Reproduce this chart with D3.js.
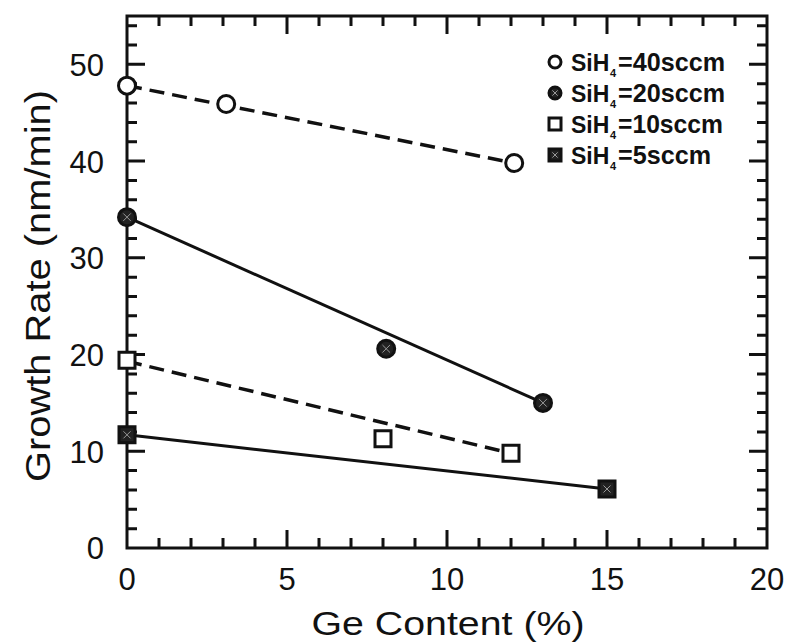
<!DOCTYPE html>
<html>
<head>
<meta charset="utf-8">
<script src="https://cdn.jsdelivr.net/npm/d3@7"></script>
<style>
  html, body { margin: 0; padding: 0; background: #fff; }
  svg { display: block; }
  text { font-family: "Liberation Sans", Arial, Helvetica, sans-serif; fill: #111; }
</style>
</head>
<body>
<div id="chart"></div>
<script>
// Growth rate vs Ge content, four SiH4 flows
const ge40 = [0, 3.1, 12.1];
const rate40 = [47.8, 45.9, 39.8];
const ge20 = [0, 8.1, 13.0];
const rate20 = [34.2, 20.6, 15.0];
const ge10 = [0, 8.0, 12.0];
const rate10 = [19.4, 11.3, 9.8];
const ge5 = [0, 15.0];
const rate5 = [11.7, 6.1];

// hand drawn trend lines (start / end)
const trend40 = [[0, 47.8], [12.1, 39.8]];
const trend20 = [[0, 34.2], [13.0, 15.0]];
const trend10 = [[0, 19.3], [12.0, 9.8]];
const trend5 = [[0, 11.7], [15.0, 6.1]];

const flows = ['40', '20', '10', '5'];
const xTicks = [0, 5, 10, 15, 20];
const yTicks = [0, 10, 20, 30, 40, 50];
const xMinor = d3.range(1, 20, 1);
const yMinor = d3.range(2, 55, 2);

const width = 789, height = 642;
const svg = d3.select('#chart').append('svg')
    .attr('width', width)
    .attr('height', height);

const x = d3.scaleLinear().domain([0, 20]).range([127, 767]);
const y = d3.scaleLinear().domain([0, 55]).range([548, 16]);

// frame plus inward ticks on all four sides, in one path
let frameD = `M${x(0)},${y(0)}H${x(20)}V${y(55)}H${x(0)}Z`;
xMinor.forEach(v => {
    const len = v % 5 === 0 ? 18 : 10;
    frameD += `M${x(v)},${y(0)}V${y(0) - len}`;
    frameD += `M${x(v)},${y(55)}V${y(55) + len}`;
});
yMinor.forEach(v => {
    const len = v % 10 === 0 ? 18 : 10;
    frameD += `M${x(0)},${y(v)}H${x(0) + len}`;
    frameD += `M${x(20)},${y(v)}H${x(20) - len}`;
});
svg.append('path')
    .attr('d', frameD)
    .attr('fill', 'none')
    .attr('stroke', '#111')
    .attr('stroke-width', 3);

// tick labels
svg.append('g').selectAll('text')
    .data(xTicks)
    .join('text')
    .attr('x', d => x(d))
    .attr('y', 590)
    .attr('text-anchor', 'middle')
    .attr('font-size', 31)
    .text(d => d);

svg.append('g').selectAll('text')
    .data(yTicks)
    .join('text')
    .attr('x', 104)
    .attr('y', d => y(d))
    .attr('dy', '0.37em')
    .attr('text-anchor', 'end')
    .attr('font-size', 31)
    .text(d => d);

// axis titles
svg.append('text')
    .attr('x', 448).attr('y', 635)
    .attr('text-anchor', 'middle')
    .attr('font-size', 34)
    .attr('textLength', 273).attr('lengthAdjust', 'spacingAndGlyphs')
    .text('Ge Content (%)');

svg.append('text')
    .attr('transform', 'translate(50,286) rotate(-90)')
    .attr('text-anchor', 'middle')
    .attr('font-size', 35)
    .attr('textLength', 392).attr('lengthAdjust', 'spacingAndGlyphs')
    .text('Growth Rate (nm/min)');

// trend lines
const line = d3.line().x(d => x(d[0])).y(d => y(d[1]));
const trends = [
    {pts: trend40, dash: '15,8'},
    {pts: trend20, dash: null},
    {pts: trend10, dash: '15,8'},
    {pts: trend5, dash: null}
];
svg.append('g').selectAll('path')
    .data(trends)
    .join('path')
    .attr('d', d => line(d.pts))
    .attr('fill', 'none')
    .attr('stroke', '#111')
    .attr('stroke-width', d => d.dash ? 3.5 : 3)
    .attr('stroke-dasharray', d => d.dash);

// markers: open = white fill, "hatched" = near-black fill with light cross
function drawMarker(g, shape, filled, size) {
    const fill = filled ? '#222' : '#fff';
    if (shape === 'circle') {
        g.append('circle').attr('r', size / 2)
            .attr('fill', fill).attr('stroke', '#111').attr('stroke-width', 3);
    } else {
        g.append('path')
            .attr('d', `M${-size / 2},${-size / 2}h${size}v${size}h${-size}Z`)
            .attr('fill', fill).attr('stroke', '#111').attr('stroke-width', 3);
    }
    if (filled) {
        const h = size * 0.22;
        g.append('path')
            .attr('d', `M${-h},${-h}L${h},${h}M${h},${-h}L${-h},${h}`)
            .attr('stroke', '#999').attr('stroke-width', 1);
    }
}

const markerSets = [
    {xs: ge40, ys: rate40, shape: 'circle', filled: false},
    {xs: ge20, ys: rate20, shape: 'circle', filled: true},
    {xs: ge10, ys: rate10, shape: 'square', filled: false},
    {xs: ge5, ys: rate5, shape: 'square', filled: true}
];
markerSets.forEach(s => {
    s.xs.forEach((gx, i) => {
        const g = svg.append('g').attr('transform', `translate(${x(gx)},${y(s.ys[i])})`);
        drawMarker(g, s.shape, s.filled, s.shape === 'circle' ? 17 : 16);
    });
});

// legend: "SiH", subscript 4, then "=NNsccm" as separate texts
const legend = svg.append('g');
const legendEnds = [725, 725, 723, 711];
flows.forEach((f, i) => {
    const cy = 62 + i * 31;
    const g = legend.append('g').attr('transform', `translate(555,${cy})`);
    drawMarker(g, markerSets[i].shape, markerSets[i].filled, 12);
    legend.append('text')
        .attr('x', 571).attr('y', cy + 9)
        .attr('font-size', 23).attr('font-weight', 'bold')
        .text('SiH');
    legend.append('text')
        .attr('x', 610).attr('y', cy + 15)
        .attr('font-size', 11).attr('font-weight', 'bold')
        .text('4');
    legend.append('text')
        .attr('x', 618).attr('y', cy + 9)
        .attr('font-size', 25).attr('font-weight', 'bold')
        .attr('textLength', legendEnds[i] - 618)
        .attr('lengthAdjust', 'spacingAndGlyphs')
        .text('=' + f + 'sccm');
});
</script>
</body>
</html>
